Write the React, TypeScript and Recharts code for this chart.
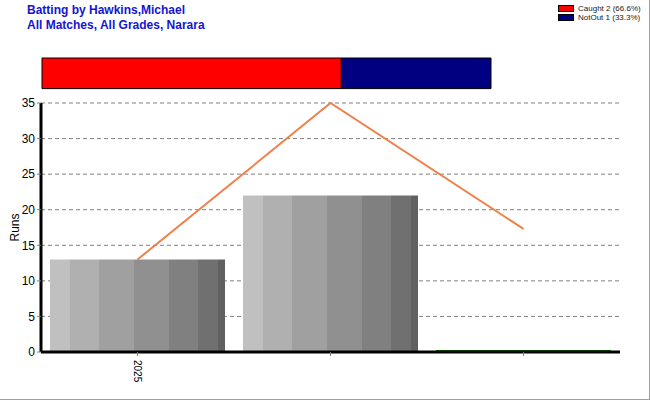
import React from 'react';
import { ComposedChart, BarChart, Bar, Line, XAxis, YAxis, CartesianGrid, Cell } from 'recharts';

// per-season runs
const seasons = ['2025', '', ''];
const runs = [13, 22, 0];
const avgLine = [13, 35, 17.3];
const yTicks = [0, 5, 10, 15, 20, 25, 30, 35];

// dismissal split
const dismissalNames = ['Caught', 'NotOut'];
const dismissalCounts = [2, 1];
const dismissalPct = ['66.6%', '33.3%'];
const dismissalColors = ['#FF0000', '#000080'];

const FONT = '"Liberation Sans", Arial, sans-serif';

const chartData = seasons.map((s, i) => ({ season: s, runs: runs[i], line: avgLine[i] }));
const splitData = [
  dismissalNames.reduce((acc: any, n, i) => ({ ...acc, [n]: dismissalCounts[i] }), { name: 'all' }),
];

const stripeStops = [
  { from: 0, to: 0.114, color: '#c0c0c0' },
  { from: 0.114, to: 0.28, color: '#b0b0b0' },
  { from: 0.28, to: 0.48, color: '#a0a0a0' },
  { from: 0.48, to: 0.68, color: '#909090' },
  { from: 0.68, to: 0.846, color: '#808080' },
  { from: 0.846, to: 0.96, color: '#707070' },
  { from: 0.96, to: 1, color: '#606060' },
];

const SeasonTick = ({ x, y, payload }: any) => {
  if (!payload.value) return null;
  return (
    <text
      x={x}
      y={y + 2}
      transform={`rotate(90, ${x}, ${y + 2})`}
      textAnchor="start"
      dominantBaseline="central"
      fontSize={10}
      fontFamily={FONT}
      fill="#000"
    >
      {payload.value}
    </text>
  );
};

export default function App() {
  return (
    <div
      style={{
        position: 'absolute',
        left: 0,
        top: 0,
        width: 650,
        height: 400,
        background: '#fff',
        boxSizing: 'border-box',
        borderRight: '1px solid #a0a0a0',
        borderBottom: '1px solid #a0a0a0',
        fontFamily: FONT,
      }}
    >
      {/* Title */}
      <div style={{ position: 'absolute', left: 27, top: 3, color: '#1414D2', fontWeight: 'bold', fontSize: 12, lineHeight: '15px' }}>
        <div>Batting by Hawkins,Michael</div>
        <div>All Matches, All Grades, Narara</div>
      </div>

      {/* Legend */}
      <div style={{ position: 'absolute', left: 558, top: 4, fontSize: 8, color: '#222', lineHeight: '9px' }}>
        {dismissalNames.map((n, i) => (
          <div key={n} style={{ display: 'flex', alignItems: 'center' }}>
            <span
              style={{
                display: 'inline-block',
                width: 14,
                height: 5,
                background: dismissalColors[i],
                border: '1px solid #000',
                marginRight: 4,
              }}
            />
            {`${n} ${dismissalCounts[i]} (${dismissalPct[i]})`}
          </div>
        ))}
      </div>

      {/* Dismissal split bar */}
      <div style={{ position: 'absolute', left: 0, top: 0 }}>
        <BarChart
          width={650}
          height={100}
          layout="vertical"
          data={splitData}
          margin={{ top: 56, right: 159, bottom: 10, left: 42 }}
          barCategoryGap={0}
        >
          <XAxis type="number" hide domain={[0, 3]} />
          <YAxis type="category" dataKey="name" hide />
          {dismissalNames.map((n, i) => (
            <Bar
              key={n}
              dataKey={n}
              stackId="d"
              fill={dismissalColors[i]}
              stroke="#000"
              strokeWidth={1}
              barSize={34}
              isAnimationActive={false}
            />
          ))}
        </BarChart>
      </div>

      {/* Main chart */}
      <div style={{ position: 'absolute', left: 0, top: 0 }}>
        <ComposedChart
          width={650}
          height={400}
          data={chartData}
          margin={{ top: 103, right: 30, bottom: 8, left: 1 }}
          barCategoryGap={9}
        >
          <defs>
            <linearGradient id="stripes" x1="0" y1="0" x2="1" y2="0">
              {stripeStops.flatMap((s, i) => [
                <stop key={`a${i}`} offset={s.from} stopColor={s.color} />,
                <stop key={`b${i}`} offset={s.to} stopColor={s.color} />,
              ])}
            </linearGradient>
          </defs>
          <CartesianGrid vertical={false} stroke="#808080" strokeDasharray="4 3" />
          <XAxis
            dataKey="season"
            height={40}
            tick={<SeasonTick />}
            tickSize={4}
            tickLine={{ stroke: '#808080' }}
            axisLine={{ stroke: '#000', strokeWidth: 3 }}
            interval={0}
          />
          <YAxis
            width={40}
            domain={[0, 35]}
            ticks={yTicks}
            tickSize={4}
            tickMargin={2}
            tickLine={{ stroke: '#808080' }}
            axisLine={{ stroke: '#000', strokeWidth: 3 }}
            tick={{ fontSize: 12, fill: '#000', fontFamily: FONT }}
            label={{ value: 'Runs', angle: -90, position: 'insideLeft', offset: 14, fontSize: 12, fill: '#000', fontFamily: FONT, style: { textAnchor: 'middle' } }}
          />
          <Bar dataKey="runs" minPointSize={2} isAnimationActive={false}>
            {runs.map((v, i) => (
              <Cell key={i} fill={v === 0 ? '#008000' : 'url(#stripes)'} />
            ))}
          </Bar>
          <Line
            dataKey="line"
            type="linear"
            stroke="#F0804A"
            strokeWidth={2}
            dot={false}
            activeDot={false}
            isAnimationActive={false}
          />
        </ComposedChart>
      </div>
    </div>
  );
}
